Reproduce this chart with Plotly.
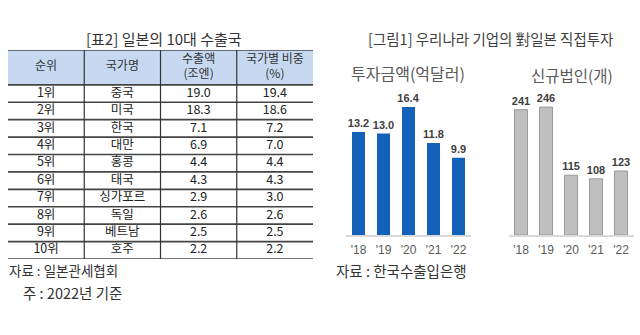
import plotly.graph_objects as go

# ---------------- data ----------------
table_title = "[표2] 일본의 10대 수출국"
headers = ["순위", "국가명", "수출액<br>(조엔)", "국가별 비중<br>(%)"]
ranks = ["1위", "2위", "3위", "4위", "5위", "6위", "7위", "8위", "9위", "10위"]
countries = ["중국", "미국", "한국", "대만", "홍콩", "태국", "싱가포르", "독일", "베트남", "호주"]
exports = [19.0, 18.3, 7.1, 6.9, 4.4, 4.3, 2.9, 2.6, 2.5, 2.2]
shares = [19.4, 18.6, 7.2, 7.0, 4.4, 4.3, 3.0, 2.6, 2.5, 2.2]
table_source = "자료 : 일본관세협회"
table_note = "주 : 2022년 기준"

chart_title = "[그림1] 우리나라 기업의 對일본 직접투자"
years = ["'18", "'19", "'20", "'21", "'22"]
invest = [13.2, 13.0, 16.4, 11.8, 9.9]
invest_title = "투자금액(억달러)"
new_corps = [241, 246, 115, 108, 123]
corps_title = "신규법인(개)"
chart_source = "자료 : 한국수출입은행"

# ---------------- figure ----------------
W, H = 640, 335
KR = "Noto Sans CJK KR"
NUMF = "Liberation Sans, Arial"

def px(x):
    return x / W

def py(y):
    return 1 - y / H

fig = go.Figure()

# bar charts
fig.add_trace(go.Bar(
    x=years, y=invest, xaxis="x", yaxis="y",
    marker=dict(color="#1461BA", line=dict(width=0)),
    texttemplate="%{y:.1f}", textposition="outside", cliponaxis=False,
    constraintext="none",
    textfont=dict(family=NUMF, size=11, color="#404040", weight="bold"),
    hoverinfo="skip",
))
fig.add_trace(go.Bar(
    x=years, y=new_corps, xaxis="x2", yaxis="y2",
    marker=dict(color="#BFBFBF", line=dict(color="#9A9A9A", width=1)),
    texttemplate="%{y}", textposition="outside", cliponaxis=False,
    constraintext="none",
    textfont=dict(family=NUMF, size=11, color="#404040", weight="bold"),
    hoverinfo="skip",
))

# table text
ncol = len(headers)
nrow = len(ranks)
hdr_rows = 2
columns = [ranks, countries, [f"{v:.1f}" for v in exports], [f"{v:.1f}" for v in shares]]
for j, col in enumerate(columns):
    fig.add_trace(go.Scatter(
        x=[j + 0.5] * len(col), y=[hdr_rows + i + 0.5 for i in range(len(col))],
        text=col, mode="text", xaxis="x3", yaxis="y3",
        textfont=dict(family=KR, size=12.5, color="#222222"),
        hoverinfo="skip", showlegend=False,
    ))
fig.add_trace(go.Scatter(
    x=[j + 0.5 for j in range(ncol)], y=[hdr_rows / 2] * ncol,
    text=headers, mode="text", xaxis="x3", yaxis="y3",
    textfont=dict(family=KR, size=12, color="#333333"),
    hoverinfo="skip", showlegend=False,
))

shapes = []
# header background
shapes.append(dict(type="rect", xref="x3", yref="y3", x0=0, x1=ncol, y0=0, y1=hdr_rows,
                   fillcolor="#C6D9F1", line=dict(width=0), layer="below"))
# horizontal rules
for r in [0, hdr_rows] + [hdr_rows + i + 1 for i in range(nrow)]:
    shapes.append(dict(type="line", xref="x3", yref="y3", x0=0, x1=ncol, y0=r, y1=r,
                       line=dict(color="#444444", width=1.6)))
# vertical rules
for c in range(1, ncol):
    shapes.append(dict(type="line", xref="x3", yref="y3", x0=c, x1=c, y0=0, y1=hdr_rows + nrow,
                       line=dict(color="#333333", width=1.2)))

annotations = [
    dict(text=table_title, x=px(164), y=py(38), xref="paper", yref="paper",
         showarrow=False, xanchor="center", yanchor="middle",
         font=dict(family=KR, size=15, color="#333333")),
    dict(text=table_source, x=px(7), y=py(270), xref="paper", yref="paper",
         showarrow=False, xanchor="left", yanchor="middle",
         font=dict(family=KR, size=13.5, color="#333333")),
    dict(text=table_note, x=px(21), y=py(292), xref="paper", yref="paper",
         showarrow=False, xanchor="left", yanchor="middle",
         font=dict(family=KR, size=14.5, color="#333333")),
    dict(text=chart_title, x=px(490), y=py(39), xref="paper", yref="paper",
         showarrow=False, xanchor="center", yanchor="middle",
         font=dict(family=KR, size=14.5, color="#404040")),
    dict(text=invest_title, x=px(408), y=py(73), xref="paper", yref="paper",
         showarrow=False, xanchor="center", yanchor="middle",
         font=dict(family=KR, size=16, color="#595959")),
    dict(text=corps_title, x=px(572), y=py(75), xref="paper", yref="paper",
         showarrow=False, xanchor="center", yanchor="middle",
         font=dict(family=KR, size=15.5, color="#595959")),
    dict(text=chart_source, x=px(334), y=py(270), xref="paper", yref="paper",
         showarrow=False, xanchor="left", yanchor="middle",
         font=dict(family=KR, size=14.5, color="#333333")),
]

bar_ydom = [py(235), py(79)]
xcommon = dict(showline=True, linecolor="#D9D9D9", linewidth=1.5, ticks="",
               showgrid=False, zeroline=False, fixedrange=True, ticklabelstandoff=3,
               tickfont=dict(family=NUMF, size=12, color="#595959"))
ycommon = dict(visible=False, showgrid=False, zeroline=False, fixedrange=True)

fig.update_layout(
    width=W, height=H, margin=dict(l=0, r=0, t=0, b=0),
    paper_bgcolor="white", plot_bgcolor="rgba(0,0,0,0)",
    showlegend=False, bargap=0.48,
    xaxis=dict(domain=[px(346), px(471)], anchor="y", **xcommon),
    yaxis=dict(domain=bar_ydom, range=[0, 20], anchor="x", **ycommon),
    xaxis2=dict(domain=[px(508.5), px(633.5)], anchor="y2", **xcommon),
    yaxis2=dict(domain=bar_ydom, range=[0, 300], anchor="x2", **ycommon),
    xaxis3=dict(domain=[px(8), px(313)], range=[0, ncol], anchor="y3", visible=False,
                fixedrange=True),
    yaxis3=dict(domain=[py(259), py(50)], range=[hdr_rows + nrow, 0], anchor="x3",
                visible=False, fixedrange=True),
    shapes=shapes, annotations=annotations,
)

fig.write_html("out.html", config={"displayModeBar": False})
